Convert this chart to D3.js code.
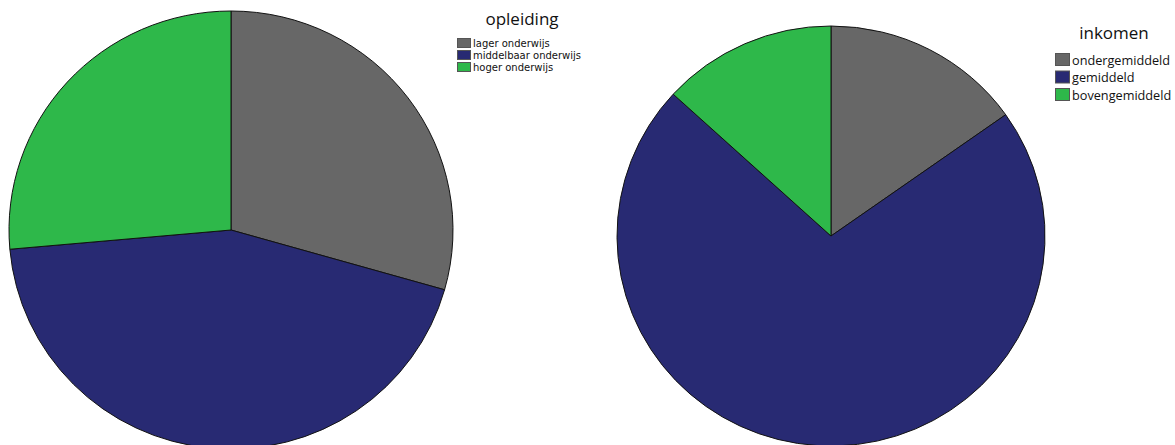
<!DOCTYPE html>
<html>
<head>
<meta charset="utf-8">
<script src="https://cdn.jsdelivr.net/npm/d3@7"></script>
<style>
  html, body { margin: 0; padding: 0; background: #fff; }
  svg { display: block; font-family: "Open Sans", "DejaVu Sans", sans-serif; }
</style>
</head>
<body>
<svg id="chart" width="1175" height="445"></svg>
<script>
// Opleiding (education level), percentages
const opleidingCategories = ["lager onderwijs", "middelbaar onderwijs", "hoger onderwijs"];
const opleidingValues = [29.4, 44.2, 26.4];

// Inkomen (income level), percentages
const inkomenCategories = ["ondergemiddeld", "gemiddeld", "bovengemiddeld"];
const inkomenValues = [15.2, 71.6, 13.2];

const sliceColors = ["#676767", "#282a73", "#2eb84a"];

const svg = d3.select("#chart");

function drawPie(cfg) {
  const data = cfg.categories.map((c, i) => ({ label: c, value: cfg.values[i] }));
  const color = d3.scaleOrdinal().domain(cfg.categories).range(sliceColors);
  const pie = d3.pie().sort(null).value(d => d.value);
  const arc = d3.arc().innerRadius(0).outerRadius(cfg.rx);

  // the pies are drawn slightly squashed vertically
  const g = svg.append("g")
    .attr("transform", `translate(${cfg.cx},${cfg.cy}) scale(1,${cfg.ry / cfg.rx})`);
  g.selectAll("path")
    .data(pie(data))
    .join("path")
    .attr("d", arc)
    .attr("fill", d => color(d.data.label))
    .attr("stroke", "#111")
    .attr("stroke-width", 1)
    .attr("stroke-linejoin", "round");

  // legend
  const lg = svg.append("g").attr("transform", `translate(${cfg.lx},${cfg.ly})`);
  lg.append("text")
    .attr("x", cfg.titleX)
    .attr("y", 0)
    .attr("text-anchor", "middle")
    .attr("font-size", cfg.titleSize)
    .attr("fill", "#111")
    .text(cfg.title);
  const rows = lg.selectAll("g.row")
    .data(data)
    .join("g")
    .attr("class", "row")
    .attr("transform", (d, i) => `translate(0,${cfg.rowStart + i * cfg.rowStep})`);
  rows.append("rect")
    .attr("x", 0.5).attr("y", 0.5)
    .attr("width", cfg.sw).attr("height", cfg.sh)
    .attr("fill", d => color(d.label))
    .attr("stroke", "#555").attr("stroke-width", 1);
  rows.append("text")
    .attr("x", cfg.sw + 3)
    .attr("y", cfg.sh - 0.5)
    .attr("font-size", cfg.labelSize)
    .attr("font-family", cfg.labelFont)
    .attr("fill", "#111")
    .text(d => d.label);
}

drawPie({
  categories: opleidingCategories, values: opleidingValues,
  cx: 231, cy: 230, rx: 222, ry: 219,
  title: "opleiding", lx: 457, ly: 25, titleX: 65, titleSize: 17,
  rowStart: 13, rowStep: 12, sw: 13, sh: 9, labelSize: 10,
  labelFont: "'DejaVu Sans', sans-serif"
});

drawPie({
  categories: inkomenCategories, values: inkomenValues,
  cx: 831, cy: 236, rx: 214, ry: 210,
  title: "inkomen", lx: 1055, ly: 39, titleX: 59, titleSize: 17,
  rowStart: 14, rowStep: 17.5, sw: 14, sh: 12, labelSize: 12.7,
  labelFont: "'Open Sans', sans-serif"
});
</script>
</body>
</html>
